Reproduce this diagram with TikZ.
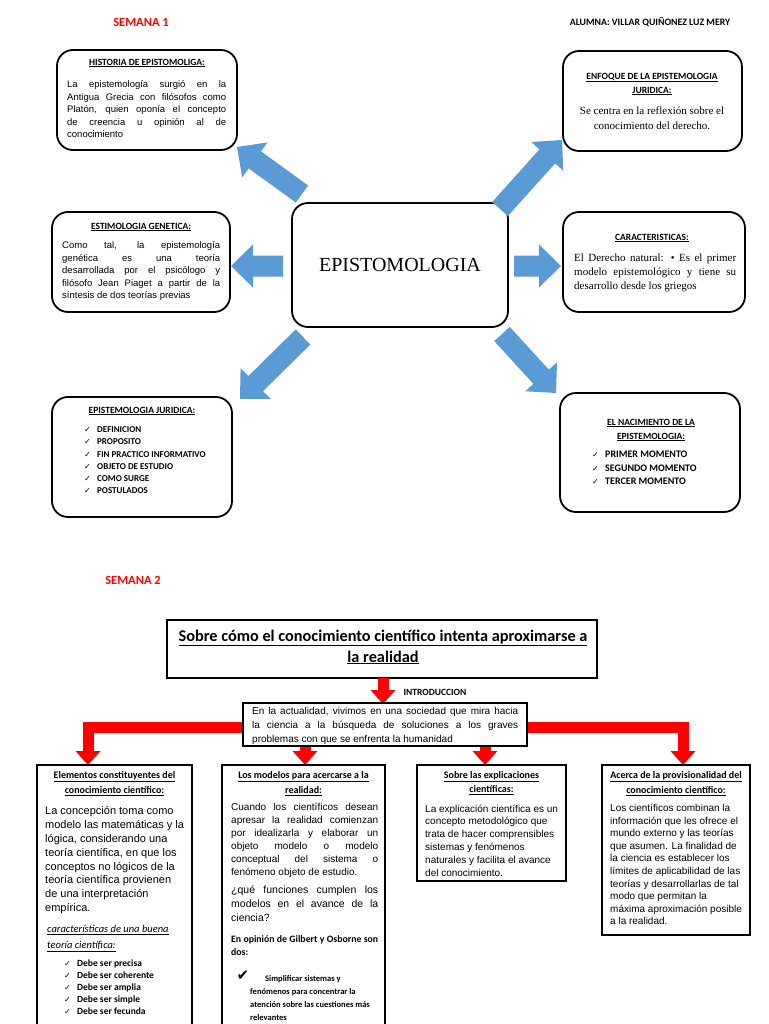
\documentclass[tikz,border=0pt]{standalone}
\usepackage{fontspec}
\setmainfont{Liberation Sans}
\newfontfamily\carl{Carlito}
\newfontfamily\tms{Liberation Serif}
\newfontfamily\dvs{DejaVu Sans}
\usetikzlibrary{arrows.meta,calc}
\definecolor{bluearr}{HTML}{5B9BD5}
\definecolor{redarr}{HTML}{FF0000}
\newcommand{\fs}[2]{\fontsize{#1}{#2}\selectfont}
\newcommand{\jl}[2]{\makebox[#1][s]{#2}}
\newcommand{\ck}{\makebox[13pt][l]{\dvs\fontsize{8}{8}\selectfont ✓}}
% block arrow from coordinate #1 (tail) to coordinate #2 (tip)
\newcommand{\blockarr}[2]{%
  \coordinate (#1#2h) at ($(#2)!22pt!(#1)$);
  \fill[bluearr] ($(#1)!10.5pt!90:(#2)$) -- ($(#1#2h)!10.5pt!90:(#2)$) -- ($(#1#2h)!21.5pt!90:(#2)$) -- (#2)
    -- ($(#1#2h)!21.5pt!-90:(#2)$) -- ($(#1#2h)!10.5pt!-90:(#2)$) -- ($(#1)!10.5pt!-90:(#2)$) -- cycle;}
\begin{document}
\begin{tikzpicture}[x=1pt,y=-1pt,
  rbox/.style={draw, line width=1.8pt, rounded corners=16pt, inner sep=0pt},
  sbox/.style={draw, line width=1.8pt, inner sep=0pt, fill=white},
  txt/.style={inner sep=0pt, align=left, anchor=north west},
  hd/.style={inner sep=0pt, align=center, font=\carl\bfseries\fs{9.5}{14}},
  rarrow/.style={draw=redarr, line width=11pt, -{Triangle[width=25pt,length=14pt,line width=0pt]}}]
\useasboundingbox (0,0) rectangle (768,1024);
\clip (0,0) rectangle (768,1024);

% ---------- SEMANA 1 ----------
\node[inner sep=0pt, font=\carl\bfseries\fs{12.5}{15}, text=redarr] (sem1) at (141,22) {SEMANA 1};
\node[inner sep=0pt, font=\carl\bfseries\fs{9.8}{11}] (alum) at (650,22) {ALUMNA: VILLAR QUIÑONEZ LUZ MERY};

\node[rbox, minimum width=180pt, minimum height=100pt] (hist) at (147,100) {};
\node[rbox, minimum width=179pt, minimum height=100pt] (enf) at (652.5,101) {};
\node[rbox, minimum width=178pt, minimum height=100pt] (gen) at (141,262) {};
\node[rbox, minimum width=182pt, minimum height=100pt] (car) at (654,262) {};
\node[rbox, minimum width=216pt, minimum height=124pt, font=\tms\fs{20}{24}] (epi) at (400,265) {EPISTOMOLOGIA};
\node[rbox, minimum width=180pt, minimum height=120pt] (jur) at (142,457) {};
\node[rbox, minimum width=180pt, minimum height=119pt] (nac) at (650,452.5) {};

\node[hd] (histh) at (147,63) {\underline{HISTORIA DE EPISTOMOLIGA:}};
\node[txt, font=\fs{9.5}{12.5}] (histb) at (67,80.5) {\jl{159pt}{La epistemología surgió en la}\\\jl{159pt}{Antigua Grecia con filósofos como}\\\jl{159pt}{Platón, quien oponía el concepto}\\\jl{159pt}{de creencia u opinión al de}\\conocimiento};

\node[hd] (enfh) at (652,84) {\underline{ENFOQUE DE LA EPISTEMOLOGIA}\\\underline{JURIDICA:}};
\node[inner sep=0pt, align=center, font=\tms\fs{11}{15}] (enfb) at (652,118.5) {Se centra en la reflexión sobre el\\conocimiento del derecho.};

\node[hd] (genh) at (141,227) {\underline{ESTIMOLOGIA GENETICA:}};
\node[txt, font=\fs{9.5}{12.5}] (genb) at (62,241.5) {\jl{158pt}{Como tal, la epistemología}\\\jl{158pt}{genética es una teoría}\\\jl{158pt}{desarrollada por el psicólogo y}\\\jl{158pt}{filósofo Jean Piaget a partir de la}\\síntesis de dos teorías previas};

\node[hd] (carh) at (652,238) {\underline{CARACTERISTICAS:}};
\node[txt, font=\tms\fs{11}{14}] (carb) at (574,253.5) {\jl{162pt}{El Derecho natural: • Es el primer}\\\jl{162pt}{modelo epistemológico y tiene su}\\desarrollo desde los griegos};

\node[hd] (jurh) at (142,411) {\underline{EPISTEMOLOGIA JURIDICA:}};
\node[txt, font=\carl\bfseries\fs{9}{12.2}] (jurb) at (84,426.5) {\ck DEFINICION\\\ck PROPOSITO\\\ck FIN PRACTICO INFORMATIVO\\\ck OBJETO DE ESTUDIO\\\ck COMO SURGE\\\ck POSTULADOS};

\node[hd] (nach) at (651,430) {\underline{EL NACIMIENTO DE LA}\\\underline{EPISTEMOLOGIA:}};
\node[txt, font=\carl\bfseries\fs{10}{13.5}] (nacb) at (592,451) {\ck PRIMER MOMENTO\\\ck SEGUNDO MOMENTO\\\ck TERCER MOMENTO};

% blue arrows
\coordinate (ul1) at (302,194); \coordinate (ul2) at (237,147);
\coordinate (ur1) at (500,209); \coordinate (ur2) at (562,140);
\coordinate (l1) at (283,266);  \coordinate (l2) at (231,266);
\coordinate (r1) at (514,266);  \coordinate (r2) at (561,266);
\coordinate (dl1) at (303,337); \coordinate (dl2) at (240,399);
\coordinate (dr1) at (502,334); \coordinate (dr2) at (556,393);
\blockarr{ul1}{ul2}
\blockarr{ur1}{ur2}
\blockarr{l1}{l2}
\blockarr{r1}{r2}
\blockarr{dl1}{dl2}
\blockarr{dr1}{dr2}

% ---------- SEMANA 2 ----------
\node[inner sep=0pt, font=\carl\bfseries\fs{12.5}{15}, text=redarr] (sem2) at (133,580) {SEMANA 2};
\node[sbox, minimum width=430pt, minimum height=58pt] (title) at (382,649) {};
\node[inner sep=0pt, align=center, font=\carl\bfseries\fs{16.3}{21}] (titlet) at (383,647) {\underline{Sobre cómo el conocimiento científico intenta aproximarse a}\\\underline{la realidad}};

\coordinate (t1) at (383,678); \coordinate (t2) at (383,704);
\draw[rarrow] (t1) -- (t2);
\node[inner sep=0pt, font=\carl\bfseries\fs{9.5}{11}] (introl) at (435,692) {INTRODUCCION};

\coordinate (barL) at (243,727); \coordinate (barR) at (527,727);
\coordinate (aTop) at (88,765); \coordinate (dTop) at (683,765);
\draw[rarrow] (barL) -| (aTop);
\draw[rarrow] (barR) -| (dTop);
\coordinate (m1) at (305,746); \coordinate (bTop) at (305,765);
\coordinate (m2) at (485,746); \coordinate (cTop) at (485,765);
\draw[rarrow] (m1) -- (bTop);
\draw[rarrow] (m2) -- (cTop);

\node[sbox, line width=1.5pt, minimum width=284pt, minimum height=43pt] (intro) at (385,724.5) {};
\node[txt, font=\fs{10}{14}] (introt) at (252,707) {\jl{266pt}{En la actualidad, vivimos en una sociedad que mira hacia}\\\jl{266pt}{la ciencia a la búsqueda de soluciones a los graves}\\problemas con que se enfrenta la humanidad};

\node[sbox, minimum width=155pt, minimum height=280pt] (bA) at (114.5,905) {};
\node[sbox, minimum width=163pt, minimum height=280pt] (bB) at (303.5,905) {};
\node[sbox, minimum width=149pt, minimum height=116pt] (bC) at (491.5,823) {};
\node[sbox, minimum width=148pt, minimum height=170pt] (bD) at (676,850) {};

% box A
\node[hd, font=\carl\bfseries\fs{10}{15}] (bAh) at (114.5,783.5) {\underline{Elementos constituyentes del}\\\underline{conocimiento científico:}};
\node[txt, font=\fs{11}{13.8}] (bAb) at (45,806.5) {La concepción toma como\\modelo las matemáticas y la\\lógica, considerando una\\teoría científica, en que los\\conceptos no lógicos de la\\teoría científica provienen\\de una interpretación\\empírica.};
\node[txt, font=\carl\itshape\fs{10.5}{16}] (bAi) at (47,925) {\underline{características de una buena}\\\underline{teoría científica:}};
\node[txt, font=\carl\bfseries\fs{9.5}{12}] (bAc) at (64,959.5) {\ck Debe ser precisa\\\ck Debe ser coherente\\\ck Debe ser amplia\\\ck Debe ser simple\\\ck Debe ser fecunda};

% box B
\node[hd, font=\carl\bfseries\fs{10}{15}] (bBh) at (303.5,783.5) {\underline{Los modelos para acercarse a la}\\\underline{realidad:}};
\node[txt, font=\fs{10}{13}] (bBb) at (231,803) {\jl{147pt}{Cuando los científicos desean}\\\jl{147pt}{apresar la realidad comienzan}\\\jl{147pt}{por idealizarla y elaborar un}\\\jl{147pt}{objeto modelo o modelo}\\\jl{147pt}{conceptual del sistema o}\\fenómeno objeto de estudio.};
\node[txt, font=\fs{10.5}{14}] (bBq) at (231,885.75) {\jl{147pt}{¿qué funciones cumplen los}\\\jl{147pt}{modelos en el avance de la}\\ciencia?};
\node[txt, font=\carl\bfseries\fs{9.8}{13}] (bBo) at (231,935) {\jl{147pt}{En opinión de Gilbert y Osborne son}\\dos:};
\node[inner sep=0pt, font=\dvs\fs{15}{15}] (bBk) at (243,976) {✔};
\node[txt, font=\carl\bfseries\fs{8.5}{13}] (bBs) at (250,975.5) {\hspace*{15pt}Simplificar sistemas y\\fenómenos para concentrar la\\atención sobre las cuestiones más\\relevantes};

% box C
\node[hd, font=\carl\bfseries\fs{10}{14}] (bCh) at (491.5,783) {\underline{Sobre las explicaciones}\\\underline{científicas:}};
\node[txt, font=\fs{10}{12.8}] (bCb) at (425,804.5) {La explicación científica es un\\concepto metodológico que\\trata de hacer comprensibles\\sistemas y fenómenos\\naturales y facilita el avance\\del conocimiento.};

% box D
\node[hd, font=\carl\bfseries\fs{10}{15}] (bDh) at (676,783.5) {\underline{Acerca de la provisionalidad del}\\\underline{conocimiento científico:}};
\node[txt, font=\fs{10}{12.6}] (bDb) at (610,804) {Los científicos combinan la\\información que les ofrece el\\mundo externo y las teorías\\que asumen. La finalidad de\\la ciencia es establecer los\\límites de aplicabilidad de las\\teorías y desarrollarlas de tal\\modo que permitan la\\máxima aproximación posible\\a la realidad.};
\end{tikzpicture}
\end{document}
